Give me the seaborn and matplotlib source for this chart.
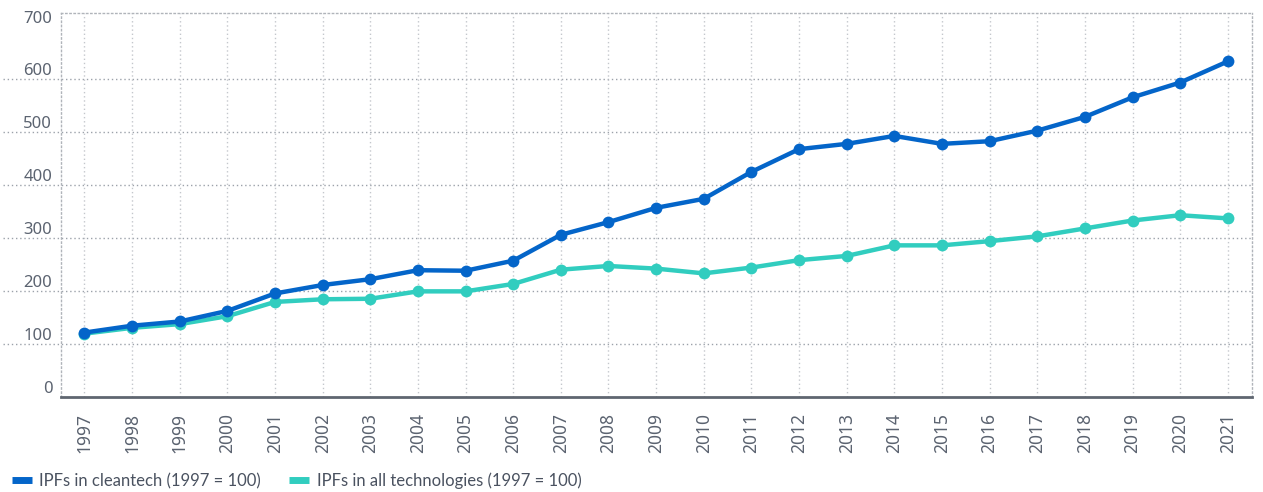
import matplotlib
matplotlib.use("Agg")
import matplotlib.pyplot as plt
import numpy as np
import pandas as pd
import seaborn as sns
from matplotlib.lines import Line2D

# Data (index, 1997 = 100)
years = list(range(1997, 2022))
cleantech = [121, 134, 142, 162, 195, 211, 222, 239, 238, 257, 306, 330, 357, 374,
             425, 468, 478, 493, 478, 483, 503, 529, 566, 594, 634]
all_tech = [119, 130, 137, 152, 179, 184, 185, 199, 199, 213, 240, 247, 242, 233,
            244, 258, 266, 286, 286, 294, 303, 318, 333, 343, 337]
series_names = ["IPFs in cleantech (1997 = 100)", "IPFs in all technologies (1997 = 100)"]
y_ticks = [0, 100, 200, 300, 400, 500, 600, 700]
grid_levels = [100, 200, 300, 400, 500, 600]

colors = ["#0465c9", "#31cdbf"]
tick_color = "#5b6370"

df = pd.DataFrame({
    "Year": years * 2,
    "Value": cleantech + all_tech,
    "Series": [series_names[0]] * len(years) + [series_names[1]] * len(years),
})

sns.set_theme(style="white")
plt.rcParams["font.family"] = ["Noto Sans", "DejaVu Sans"]

fig = plt.figure(figsize=(12.63, 4.92), dpi=100)
ax = fig.add_axes([0.048, 0.194, 0.943, 0.779])

# Grid lines first so the series sit on top
for lvl in grid_levels:
    ax.axhline(lvl, xmin=-0.048, xmax=1, color="#9ca2aa", lw=1, ls=(0, (1, 2)),
               clip_on=False, zorder=0)
for yr in years:
    ax.axvline(yr, color="#c4c7cc", lw=1, ls=(0, (1, 2)), zorder=0)

sns.lineplot(
    data=df, x="Year", y="Value", hue="Series", palette=colors,
    marker="o", markersize=8.5, markeredgewidth=0, linewidth=3.2,
    legend=False, ax=ax, zorder=3,
)
ax.lines[-1].set_zorder(2)

ax.set_xlim(1996.5, 2021.5)
ax.set_ylim(0, 725)
ax.set_xlabel("")
ax.set_ylabel("")

ax.set_xticks(years)
ax.set_xticklabels([str(y) for y in years], rotation=90, fontsize=12.5, color=tick_color)
ax.set_yticks(y_ticks)
ax.set_yticklabels([str(v) for v in y_ticks], fontsize=12, color=tick_color, va="bottom")
ax.tick_params(axis="y", length=0, pad=6)
ax.tick_params(axis="x", length=9, width=1, color="#c4c7cc", pad=3)

for side in ["left", "right", "top"]:
    ax.spines[side].set_visible(True)
    ax.spines[side].set_color("#b0b4ba")
    ax.spines[side].set_linewidth(1)
    ax.spines[side].set_linestyle((0, (1, 2)))
ax.spines["bottom"].set_color("#5f6670")
ax.spines["bottom"].set_linewidth(2)
ax.spines["bottom"].set_zorder(4)

handles = [Line2D([], [], color=c, lw=5, solid_capstyle="butt") for c in colors]
fig.legend(
    handles, series_names, loc="center left", bbox_to_anchor=(0.0, 11 / 492),
    ncol=2, frameon=False, handlelength=1.2, handletextpad=0.45,
    columnspacing=1.7, labelcolor="#4a5260", borderaxespad=0.3,
    prop={"family": ["Lato", "DejaVu Sans"], "size": 12},
)

fig.savefig("out.png", dpi=100)
